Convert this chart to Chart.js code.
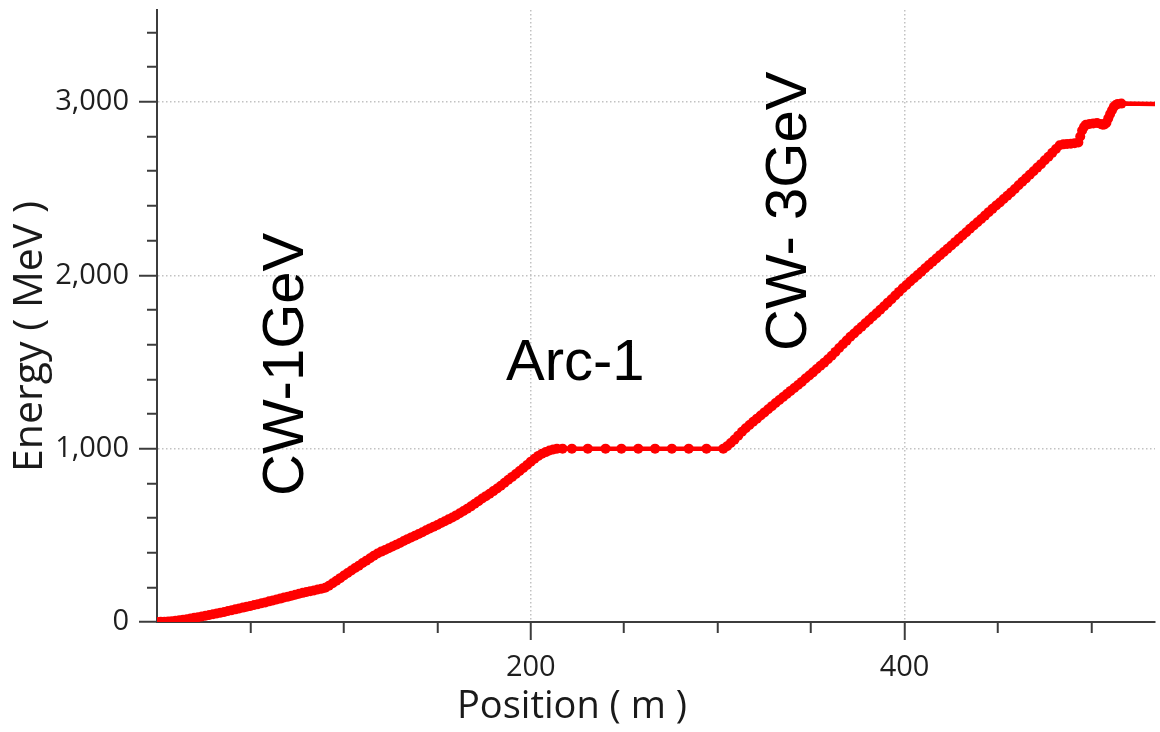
<!DOCTYPE html>
<html>
<head>
<meta charset="utf-8">
<title>Energy vs Position</title>
<script src="https://cdn.jsdelivr.net/npm/chart.js@4.4.1/dist/chart.umd.min.js"></script>
<style>
    html, body { margin: 0; padding: 0; background: #fff; }
    #wrap { position: relative; width: 1160px; height: 732px; overflow: hidden; }
    #energyChart { position: absolute; left: 0; top: 0; }
    .txt { position: absolute; white-space: nowrap; line-height: 1; }
    .rot { transform-origin: 0 0; transform: rotate(-90deg); }
    .axis-title { font-family: "Open Sans", sans-serif; color: #1a1a1a; }
    .note { font-family: "Liberation Sans", Arial, sans-serif; font-size: 58px; color: #000; }
</style>
</head>
<body>
<div id="wrap">
    <canvas id="energyChart" width="1160" height="732"></canvas>
    <div class="txt axis-title rot" style="left:6px; top:472px; font-size:41px;">Energy ( MeV )</div>
    <div class="txt axis-title" style="left:457px; top:684px; font-size:38px;">Position ( m )</div>
    <div class="txt note rot" style="left:254px; top:496px;">CW-1GeV</div>
    <div class="txt note" style="left:506px; top:331px;">Arc-1</div>
    <div class="txt note rot" style="left:757px; top:351px;">CW- 3GeV</div>
</div>
<script>
// ── 資料──────────────────────────────────────────────
// 第一段直線加速器 CW-1GeV
var linac1Pos = [0, 2, 4, 6, 8, 10, 12, 14, 16, 18, 20, 22, 24, 26, 28, 30, 32, 34, 36, 38,
    40, 42, 44, 46, 48, 50, 52, 54, 56, 58, 60, 62, 64, 66, 68, 70, 72, 74, 76, 78,
    80, 82, 84, 86, 88, 90, 92, 94, 96, 98, 100, 102, 104, 106, 108, 110, 112, 114, 116, 118,
    120, 122, 124, 126, 128, 130, 132, 134, 136, 138, 140, 142, 144, 146, 148, 150, 152, 154, 156, 158,
    160, 162, 164, 166, 168, 170, 172, 174, 176, 178, 180, 182, 184, 186, 188, 190, 192, 194, 196, 198,
    200, 202, 204, 206, 208, 210, 212, 214];
var linac1E = [0, 1, 2, 3, 5, 7, 10, 13, 16, 20, 24, 28, 32, 36, 40, 45, 49, 54, 58, 63,
    68, 73, 78, 83, 88, 93, 98, 103, 108, 113, 119, 124, 130, 135, 141, 146, 152, 157, 163, 168,
    173, 178, 182, 187, 192, 198, 209, 223, 238, 253, 268, 283, 297, 311, 325, 340, 354, 368, 382, 395,
    406, 415, 425, 435, 446, 456, 467, 478, 488, 498, 508, 518, 529, 540, 550, 560, 571, 581, 592, 603,
    615, 627, 640, 653, 667, 682, 697, 712, 726, 740, 755, 770, 786, 803, 820, 837, 854, 871, 888, 906,
    925, 942, 958, 970, 980, 989, 995, 999];

// 彎弧段 Arc-1（能量不變）
var arcPos = [217, 222, 230.5, 240, 248.5, 257.5, 266.5, 275.5, 284.5, 294, 303];
var arcE   = [1000, 1000, 1000, 1000, 1000, 1000, 1000, 1000, 1000, 1000, 1000];

// 第二段直線加速器 CW-3GeV
var linac2Pos = [305, 307, 309, 311, 313, 315, 317, 319, 321, 323, 325, 327, 329, 331, 333, 335, 337, 339,
    341, 343, 345, 347, 349, 351, 353, 355, 357, 359, 361, 363, 365, 367, 369, 371, 373, 375, 377, 379,
    381, 383, 385, 387, 389, 391, 393, 395, 397, 399, 401, 403, 405, 407, 409, 411, 413, 415, 417, 419,
    421, 423, 425, 427, 429, 431, 433, 435, 437, 439, 441, 443, 445, 447, 449, 451, 453, 455, 457, 459,
    461, 463, 465, 467, 469, 471, 473, 475, 477, 479, 481, 483];
var linac2E = [1014, 1032, 1052, 1075, 1097, 1118, 1136, 1155, 1173, 1191, 1209, 1227, 1245, 1263, 1280, 1298, 1315, 1333,
    1350, 1367, 1385, 1404, 1422, 1440, 1459, 1478, 1496, 1516, 1536, 1558, 1580, 1602, 1623, 1645, 1664, 1684, 1703, 1723,
    1742, 1762, 1781, 1801, 1821, 1842, 1862, 1883, 1904, 1925, 1944, 1964, 1983, 2002, 2020, 2040, 2059, 2078, 2097, 2116,
    2134, 2153, 2172, 2191, 2210, 2229, 2248, 2268, 2287, 2306, 2325, 2344, 2364, 2383, 2402, 2420, 2440, 2459, 2478, 2498,
    2519, 2539, 2559, 2580, 2600, 2621, 2641, 2663, 2684, 2706, 2728, 2750];

// 末段（階梯後到 3GeV）
var tailPos = [485, 487, 489, 491, 493, 494, 495, 496, 497, 499, 501, 503, 505, 506, 507, 508,
    509, 510, 511, 512, 513, 514, 516, 540];
var tailE   = [2755, 2757, 2759, 2761, 2766, 2800, 2835, 2855, 2868, 2873, 2876, 2878, 2872, 2868, 2870, 2880,
    2905, 2930, 2952, 2972, 2982, 2988, 2990, 2988];

// 座標軸刻度標籤
var xTickLabels = [200, 400];
var yTickLabels = [0, 1000, 2000, 3000];

(function () {
    'use strict';

    var AXIS_COLOR = '#3c3c3c';
    var GRID_COLOR = '#c2c2c2';
    var TEXT_COLOR = '#1e1e1e';
    var NONE = 'rgba(0,0,0,0)';

    // ── 組合資料點 ───────────────────────────────────────────
    function buildPoints() {
        var pos = linac1Pos.concat(arcPos, linac2Pos, tailPos);
        var e   = linac1E.concat(arcE, linac2E, tailE);
        return pos.map(function (p, i) { return { x: p, y: e[i] }; });
    }

    function isMajor(list, ctx) {
        return ctx.tick && list.indexOf(ctx.tick.value) >= 0;
    }

    // 固定軸區大小，不讓刻度字撐開繪圖區
    function fixHeight(s) {
        s.height = 110;
        s.paddingLeft = 0;
        s.paddingRight = 0;
    }
    function fixWidth(s) {
        s.width = 157;
        s.paddingTop = 0;
        s.paddingBottom = 0;
    }

    var tickFont = { family: 'Open Sans', size: 29 };

    new Chart(document.getElementById('energyChart').getContext('2d'), {
        type: 'line',
        data: {
            datasets: [{
                data: buildPoints(),
                borderColor: '#ff0000',
                backgroundColor: '#ff0000',
                pointBackgroundColor: '#ff0000',
                borderWidth: 4.5,
                pointRadius: 5,
                pointHoverRadius: 5,
                pointBorderWidth: 0,
                tension: 0,
                fill: false
            }]
        },
        options: {
            responsive: false,
            animation: false,
            devicePixelRatio: 1,
            layout: { padding: { top: 10, right: 0, bottom: 0, left: 0 } },
            plugins: {
                legend: { display: false },
                tooltip: { enabled: false }
            },
            scales: {
                x: {
                    type: 'linear',
                    min: 0,
                    max: 534,
                    afterFit: fixHeight,
                    border: { color: AXIS_COLOR, width: 2, dash: [1.5, 2.5] },
                    grid: {
                        lineWidth: 1.5,
                        color: function (c) { return isMajor(xTickLabels, c) ? GRID_COLOR : NONE; },
                        tickLength: 18,
                        tickWidth: 2,
                        tickColor: function (c) { return c.tick && c.tick.value === 0 ? NONE : AXIS_COLOR; },
                        // 次刻度只畫靠軸的 10px
                        tickBorderDash: function (c) { return isMajor(xTickLabels, c) ? [] : [10, 40]; }
                    },
                    ticks: {
                        stepSize: 50,
                        includeBounds: false,
                        autoSkip: false,
                        maxRotation: 0,
                        padding: 10,
                        font: tickFont,
                        color: TEXT_COLOR,
                        callback: function (v) { return xTickLabels.indexOf(v) >= 0 ? String(v) : ''; }
                    }
                },
                y: {
                    type: 'linear',
                    min: 0,
                    max: 3530,
                    afterFit: fixWidth,
                    border: { color: AXIS_COLOR, width: 2, dash: [1.5, 2.5] },
                    grid: {
                        lineWidth: 1.5,
                        color: function (c) { return isMajor(yTickLabels, c) ? GRID_COLOR : NONE; },
                        tickLength: 18,
                        tickWidth: 2,
                        tickColor: AXIS_COLOR,
                        // 左軸刻度由外往內畫，次刻度先留空 8px
                        tickBorderDash: function (c) { return isMajor(yTickLabels, c) ? [] : [0, 8, 40]; }
                    },
                    ticks: {
                        stepSize: 200,
                        includeBounds: false,
                        autoSkip: false,
                        padding: 10,
                        font: tickFont,
                        color: TEXT_COLOR,
                        callback: function (v) { return yTickLabels.indexOf(v) >= 0 ? v.toLocaleString('en-US') : ''; }
                    }
                }
            }
        }
    });
})();
</script>
</body>
</html>
